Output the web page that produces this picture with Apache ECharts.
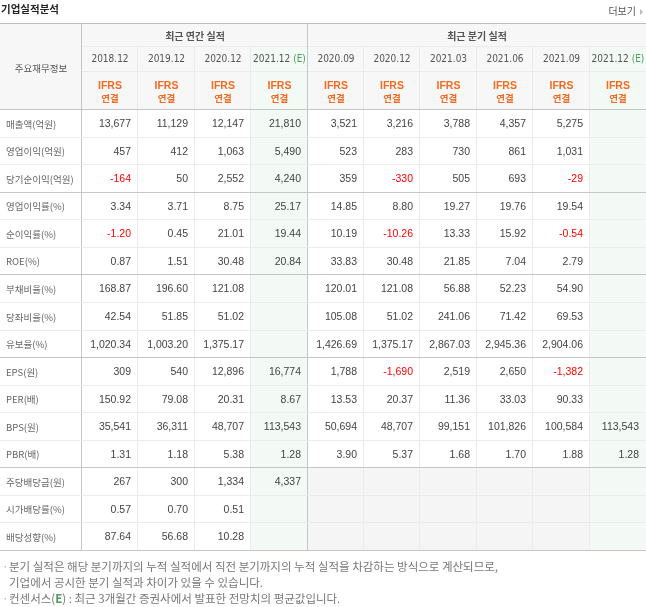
<!DOCTYPE html>
<html><head><meta charset="utf-8">
<script src="https://cdn.jsdelivr.net/npm/echarts@6/dist/echarts.min.js"></script>
<style>html,body{margin:0;padding:0;background:#fff}#c{width:646px;height:607px}</style>
</head><body><div id="c"></div>
<script>
// ---------- data ----------
const rowLabels = ['매출액(억원)','영업이익(억원)','당기순이익(억원)','영업이익률(%)','순이익률(%)','ROE(%)','부채비율(%)','당좌비율(%)','유보율(%)','EPS(원)','PER(배)','BPS(원)','PBR(배)','주당배당금(원)','시가배당률(%)','배당성향(%)'];
const annualPeriods = ['2018.12','2019.12','2020.12','2021.12'];
const quarterPeriods = ['2020.09','2020.12','2021.03','2021.06','2021.09','2021.12'];
const estimateFlags = [false,false,false,true,false,false,false,false,false,true];
const accountingBasis = ['IFRS','연결'];
const groupTitles = ['최근 연간 실적','최근 분기 실적'];
const sales            = [13677,11129,12147,21810,3521,3216,3788,4357,5275,null];
const operatingProfit  = [457,412,1063,5490,523,283,730,861,1031,null];
const netIncome        = [-164,50,2552,4240,359,-330,505,693,-29,null];
const operatingMargin  = [3.34,3.71,8.75,25.17,14.85,8.80,19.27,19.76,19.54,null];
const netMargin        = [-1.20,0.45,21.01,19.44,10.19,-10.26,13.33,15.92,-0.54,null];
const roe              = [0.87,1.51,30.48,20.84,33.83,30.48,21.85,7.04,2.79,null];
const debtRatio        = [168.87,196.60,121.08,null,120.01,121.08,56.88,52.23,54.90,null];
const quickRatio       = [42.54,51.85,51.02,null,105.08,51.02,241.06,71.42,69.53,null];
const reserveRatio     = [1020.34,1003.20,1375.17,null,1426.69,1375.17,2867.03,2945.36,2904.06,null];
const eps              = [309,540,12896,16774,1788,-1690,2519,2650,-1382,null];
const per              = [150.92,79.08,20.31,8.67,13.53,20.37,11.36,33.03,90.33,null];
const bps              = [35541,36311,48707,113543,50694,48707,99151,101826,100584,113543];
const pbr              = [1.31,1.18,5.38,1.28,3.90,5.37,1.68,1.70,1.88,1.28];
const dps              = [267,300,1334,4337,null,null,null,null,null,null];
const dividendYield    = [0.57,0.70,0.51,null,null,null,null,null,null,null];
const payoutRatio      = [87.64,56.68,10.28,null,null,null,null,null,null,null];
const rowDecimals      = [0,0,0,2,2,2,2,2,2,0,2,0,2,0,2,2];
const rowGroupSizes    = [3,3,3,4,3];
const quarterlyNotReported = [13,14,15];
const footnotes = [
  '분기 실적은 해당 분기까지의 누적 실적에서 직전 분기까지의 누적 실적을 차감하는 방식으로 계산되므로,',
  '기업에서 공시한 분기 실적과 차이가 있을 수 있습니다.',
  '컨센서스({e|E}) : 최근 3개월간 증권사에서 발표한 전망치의 평균값입니다.'
];

// ---------- build ----------
const seriesRows = [sales,operatingProfit,netIncome,operatingMargin,netMargin,roe,debtRatio,quickRatio,reserveRatio,eps,per,bps,pbr,dps,dividendYield,payoutRatio];
const allPeriods = annualPeriods.concat(quarterPeriods);
const groupEnds = new Set();
{ let acc = 0; rowGroupSizes.forEach(s => { acc += s; groupEnds.add(acc - 1); }); }

const C = {
  text:'#444', label:'#666', head:'#555', red:'#ff0000', ifrs:'#f26b21', est:'#4a9d5b',
  headBg:'#f7f7f7', estBg:'#f3f9f4', naBg:'#f5f5f5', line:'#ebebeb', lineDark:'#c6c6c6', topLine:'#bcbcbc'
};
const numFont = '"Liberation Sans", Arial, sans-serif';
const narrowFont = '"DejaVu Sans Condensed", "Liberation Sans Narrow", "Liberation Sans", Arial, sans-serif';
const krFont = '"Noto Sans CJK KR", sans-serif';
const headerBands = [0, 24, 49, 87];

function fmt(v, d) {
  return v.toLocaleString('en-US', {minimumFractionDigits:d, maximumFractionDigits:d});
}
function cellBox(api, c, r) {
  const ctr = api.coord([c, r]); const sz = api.size([1, 1]);
  return {
    x0: Math.round(ctr[0] - sz[0] / 2), x1: Math.round(ctr[0] + sz[0] / 2),
    y0: Math.round(ctr[1] - sz[1] / 2), y1: Math.round(ctr[1] + sz[1] / 2)
  };
}

const bodyData = [];
seriesRows.forEach((vals, r) => vals.forEach((v, c) => bodyData.push([c, r])));
const labelData = rowLabels.map((l, r) => [0, r]);

function renderBody(params, api) {
  const c = api.value(0), r = api.value(1);
  const b = cellBox(api, c, r);
  const isEst = estimateFlags[c];
  const isNA = !isEst && c >= annualPeriods.length && quarterlyNotReported.indexOf(r) >= 0;
  const ch = [];
  const bg = isEst ? C.estBg : (isNA ? C.naBg : null);
  if (bg) ch.push({type:'rect', shape:{x:b.x0, y:b.y0, width:b.x1-b.x0, height:b.y1-b.y0}, style:{fill:bg}});
  const v = seriesRows[r][c];
  if (v != null) {
    ch.push({type:'text', style:{text:fmt(v, rowDecimals[r]), x:b.x1-7, y:(b.y0+b.y1)/2+0.5,
      align:'right', verticalAlign:'middle', font:'10.5px ' + numFont, fill: v < 0 ? C.red : C.text}});
  }
  if (c !== allPeriods.length - 1) {
    ch.push({type:'line', shape:{x1:b.x1-0.5, y1:b.y0, x2:b.x1-0.5, y2:b.y1},
      style:{stroke: c === annualPeriods.length - 1 ? C.lineDark : C.line, lineWidth:1}});
  }
  ch.push({type:'line', shape:{x1:b.x0, y1:b.y1-0.5, x2:b.x1, y2:b.y1-0.5},
    style:{stroke: groupEnds.has(r) ? C.lineDark : C.line, lineWidth:1}});
  return {type:'group', children:ch};
}

function renderLabel(params, api) {
  const r = api.value(1);
  const b = cellBox(api, 0, r);
  return {type:'group', children:[
    {type:'text', style:{text:rowLabels[r], x:b.x0+6, y:(b.y0+b.y1)/2, align:'left', verticalAlign:'middle',
      font:'9.5px ' + krFont, fill:C.label}},
    {type:'line', shape:{x1:b.x1-0.5, y1:b.y0, x2:b.x1-0.5, y2:b.y1}, style:{stroke:C.lineDark, lineWidth:1}},
    {type:'line', shape:{x1:b.x0, y1:b.y1-0.5, x2:b.x1, y2:b.y1-0.5},
      style:{stroke: groupEnds.has(r) ? C.lineDark : C.line, lineWidth:1}}
  ]};
}

function renderColHeader(params, api) {
  const c = api.value(0);
  const ctr = api.coord([c, 0]); const w = api.size([1, 0])[0];
  const x0 = Math.round(ctr[0] - w/2), x1 = Math.round(ctr[0] + w/2);
  const yA = Math.round(api.coord([c, headerBands[1]])[1]);
  const yB = Math.round(api.coord([c, headerBands[2]])[1]);
  const yC = Math.round(api.coord([c, headerBands[3]])[1]);
  const isEst = estimateFlags[c];
  const ch = [];
  ch.push({type:'rect', shape:{x:x0, y:yA, width:x1-x0, height:yC-yA}, style:{fill: isEst ? C.estBg : C.headBg}});
  ch.push({type:'text', style:{
    text: isEst ? '{d|' + allPeriods[c] + '}{e| (E)}' : '{d|' + allPeriods[c] + '}',
    x:(x0+x1)/2, y:(yA+yB)/2, align:'center', verticalAlign:'middle',
    rich:{d:{font:'10px ' + narrowFont, fill:C.head}, e:{font:'10px ' + narrowFont, fill:C.est}}}});
  ch.push({type:'text', style:{text:accountingBasis[0], x:(x0+x1)/2, y:(yB+yC)/2-5, align:'center', verticalAlign:'middle',
    font:'bold 10.5px ' + numFont, fill:C.ifrs}});
  ch.push({type:'text', style:{text:accountingBasis[1], x:(x0+x1)/2, y:(yB+yC)/2+7, align:'center', verticalAlign:'middle',
    font:'bold 9.5px ' + krFont, fill:C.ifrs}});
  ch.push({type:'line', shape:{x1:x0, y1:yB-0.5, x2:x1, y2:yB-0.5}, style:{stroke:C.line, lineWidth:1}});
  if (c !== allPeriods.length - 1) {
    ch.push({type:'line', shape:{x1:x1-0.5, y1:yA, x2:x1-0.5, y2:yC},
      style:{stroke: c === annualPeriods.length - 1 ? C.lineDark : C.line, lineWidth:1}});
  }
  ch.push({type:'line', shape:{x1:x0, y1:yC-0.5, x2:x1, y2:yC-0.5}, style:{stroke:C.lineDark, lineWidth:1}});
  return {type:'group', children:ch};
}

const groupData = [[0, annualPeriods.length - 1, 0], [annualPeriods.length, allPeriods.length - 1, 1]];
function renderGroupHeader(params, api) {
  const s = api.value(0), e = api.value(1), gi = api.value(2);
  const w = api.size([1, 0])[0];
  const x0 = Math.round(api.coord([s, 0])[0] - w/2), x1 = Math.round(api.coord([e, 0])[0] + w/2);
  const y0 = Math.round(api.coord([s, headerBands[0]])[1]);
  const y1 = Math.round(api.coord([s, headerBands[1]])[1]);
  const ch = [
    {type:'rect', shape:{x:x0, y:y0, width:x1-x0, height:y1-y0}, style:{fill:C.headBg}},
    {type:'text', style:{text:groupTitles[gi], x:(x0+x1)/2, y:(y0+y1)/2+1, align:'center', verticalAlign:'middle',
      font:'bold 10px ' + krFont, fill:C.head}},
    {type:'line', shape:{x1:x0, y1:y1-0.5, x2:x1, y2:y1-0.5}, style:{stroke:C.line, lineWidth:1}}
  ];
  if (e !== allPeriods.length - 1) {
    ch.push({type:'line', shape:{x1:x1-0.5, y1:y0, x2:x1-0.5, y2:y1}, style:{stroke:C.lineDark, lineWidth:1}});
  }
  return {type:'group', children:ch};
}

const chart = echarts.init(document.getElementById('c'), null, {renderer:'canvas'});
const hidden = {show:false};
chart.setOption({
  animation:false,
  grid:[
    {left:0, top:110, width:82, height:441},
    {left:82, top:110, width:564, height:441},
    {left:82, top:23, width:564, height:87}
  ],
  xAxis:[
    {gridIndex:0, type:'category', data:['항목'], axisLine:hidden, axisTick:hidden, axisLabel:hidden, splitLine:hidden},
    {gridIndex:1, type:'category', data:allPeriods, axisLine:hidden, axisTick:hidden, axisLabel:hidden, splitLine:hidden},
    {gridIndex:2, type:'category', data:allPeriods, axisLine:hidden, axisTick:hidden, axisLabel:hidden, splitLine:hidden}
  ],
  yAxis:[
    {gridIndex:0, type:'category', data:rowLabels, inverse:true, axisLine:hidden, axisTick:hidden, axisLabel:hidden, splitLine:hidden},
    {gridIndex:1, type:'category', data:rowLabels, inverse:true, axisLine:hidden, axisTick:hidden, axisLabel:hidden, splitLine:hidden},
    {gridIndex:2, type:'value', min:0, max:headerBands[3], inverse:true, axisLine:hidden, axisTick:hidden, axisLabel:hidden, splitLine:hidden}
  ],
  series:[
    {type:'custom', xAxisIndex:0, yAxisIndex:0, data:labelData, renderItem:renderLabel, silent:true, clip:false},
    {type:'custom', xAxisIndex:1, yAxisIndex:1, data:bodyData, renderItem:renderBody, silent:true, clip:false},
    {type:'custom', xAxisIndex:2, yAxisIndex:2, data:allPeriods.map((p, i) => [i]), renderItem:renderColHeader, silent:true, clip:false,
      encode:{x:0}},
    {type:'custom', xAxisIndex:2, yAxisIndex:2, data:groupData, renderItem:renderGroupHeader, silent:true, clip:false,
      encode:{x:[0,1]}}
  ],
  graphic:[
    {type:'text', left:1, top:4, z:100, style:{text:'기업실적분석', font:'bold 10.5px ' + krFont, fill:'#222'}},
    {type:'text', right:10, top:6, z:100, style:{text:'더보기', font:'10px ' + krFont, fill:'#555'}},
    {type:'polygon', z:100, shape:{points:[[640,9],[643,12],[640,15]]}, style:{fill:'#bbb'}},
    {type:'rect', z:1, shape:{x:0, y:23, width:82, height:87}, style:{fill:C.headBg}},
    {type:'text', z:100, x:41, y:68, style:{text:'주요재무정보', font:'9.5px ' + krFont, fill:C.head, align:'center', verticalAlign:'middle'}},
    {type:'line', z:100, shape:{x1:81.5, y1:23, x2:81.5, y2:110}, style:{stroke:C.lineDark, lineWidth:1}},
    {type:'line', z:100, shape:{x1:0, y1:109.5, x2:82, y2:109.5}, style:{stroke:C.lineDark, lineWidth:1}},
    {type:'line', z:100, shape:{x1:0, y1:23.5, x2:646, y2:23.5}, style:{stroke:C.topLine, lineWidth:1}},
    {type:'text', z:100, x:2, y:567, style:{text:'·', font:'11.5px ' + krFont, fill:'#aaa', verticalAlign:'middle'}},
    {type:'text', z:100, x:9, y:567, style:{text:footnotes[0], font:'11.5px ' + krFont, fill:'#777', verticalAlign:'middle'}},
    {type:'text', z:100, x:9, y:583, style:{text:footnotes[1], font:'11.5px ' + krFont, fill:'#777', verticalAlign:'middle'}},
    {type:'text', z:100, x:2, y:599, style:{text:'·', font:'11.5px ' + krFont, fill:'#aaa', verticalAlign:'middle'}},
    {type:'text', z:100, x:9, y:599, style:{text:footnotes[2], font:'11.5px ' + krFont, fill:'#777', verticalAlign:'middle',
      rich:{e:{font:'bold 11.5px ' + krFont, fill:C.est}}}}
  ]
});
</script></body></html>
